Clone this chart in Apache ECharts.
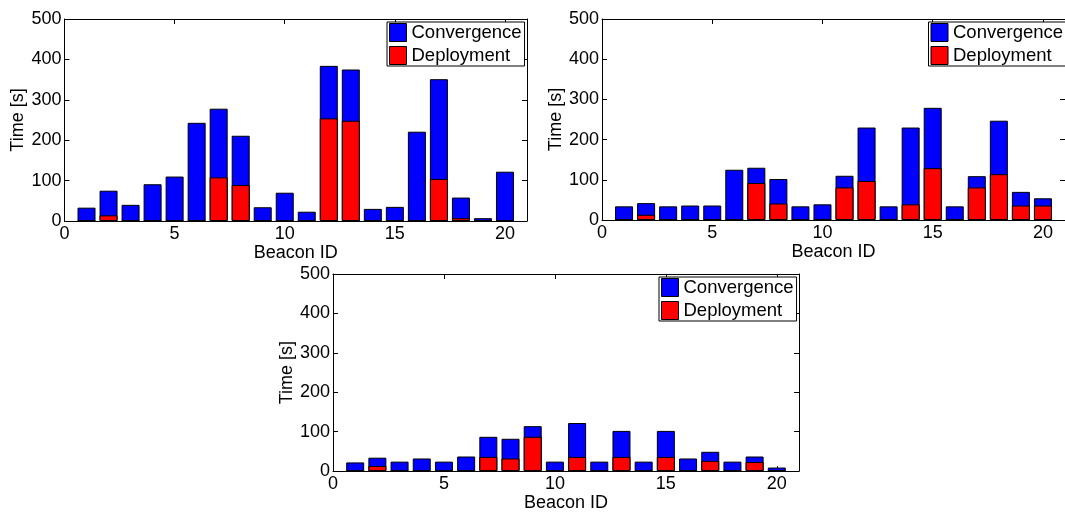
<!DOCTYPE html>
<html>
<head>
<meta charset="utf-8">
<script src="https://cdn.jsdelivr.net/npm/echarts@6/dist/echarts.min.js"></script>
<style>
html,body{margin:0;padding:0;background:#fff;}
#chart{width:1065px;height:513px;}
</style>
</head>
<body>
<div id="chart"></div>
<script>
// ---- data ----
const beaconIds = [1,2,3,4,5,6,7,8,9,10,11,12,13,14,15,16,17,18,19,20];
const xTicks = [0,5,10,15,20];
const yTicks = [0,100,200,300,400,500];
const seriesNames = ['Convergence','Deployment'];

const conv1 = [33,75,40,91,110,243,278,211,34,70,23,384,375,30,35,221,351,58,7,122];
const dep1  = [0,14,0,0,0,0,108,89,0,0,0,254,248,0,0,0,104,7,0,0];

const conv2 = [34,42,34,36,36,125,130,102,34,39,110,230,34,230,279,34,109,247,70,54];
const dep2  = [0,13,0,0,0,0,92,41,0,0,81,97,0,39,129,0,81,114,36,36];

const conv3 = [22,34,24,32,24,37,87,82,114,24,122,24,102,24,102,32,49,24,37,9];
const dep3  = [0,13,0,0,0,0,36,32,87,0,36,0,36,0,36,0,26,0,23,0];

const panels = [
  {conv: conv1, dep: dep1},
  {conv: conv2, dep: dep2},
  {conv: conv3, dep: dep3}
];

// ---- layout ----
const grids = [
  {left: 64.5, top: 19, width: 462.5, height: 202},
  {left: 602, top: 19, width: 466.5, height: 201},
  {left: 333, top: 274, width: 466, height: 201}
];
const FONT = 'Liberation Sans, Arial, Helvetica, sans-serif';
const BLUE = '#0000ff', RED = '#ff0000';

const chart = echarts.init(document.getElementById('chart'), null, {renderer: 'canvas'});

const xAxes = [], yAxes = [], series = [], legends = [];
const xmin = 0, xmax = beaconIds[beaconIds.length - 1] + 1;
const ymin = yTicks[0], ymax = yTicks[yTicks.length - 1];
const xStep = xTicks[1] - xTicks[0], yStep = yTicks[1] - yTicks[0];

grids.forEach((g, i) => {
  const tick = {show: true, inside: true, length: 5, lineStyle: {color: '#000', width: 1}};
  const line = {show: true, onZero: false, lineStyle: {color: '#000', width: 1}};
  xAxes.push({
    type: 'value', gridIndex: i, position: 'bottom', min: xmin, max: xmax, interval: xStep,
    axisLine: line, axisTick: tick, splitLine: {show: false},
    axisLabel: {color: '#000', fontSize: 18, fontFamily: FONT, margin: 4, showMaxLabel: false,
      formatter: v => (xTicks.indexOf(v) >= 0 ? String(v) : '')},
    name: 'Beacon ID', nameLocation: 'middle', nameGap: 17,
    nameTextStyle: {color: '#000', fontSize: 18, fontFamily: FONT}
  });
  xAxes.push({
    type: 'value', gridIndex: i, position: 'top', min: xmin, max: xmax, interval: xStep,
    axisLine: line, axisTick: tick, splitLine: {show: false}, axisLabel: {show: false}
  });
  yAxes.push({
    type: 'value', gridIndex: i, position: 'left', min: ymin, max: ymax, interval: yStep,
    axisLine: line, axisTick: tick, splitLine: {show: false},
    axisLabel: {color: '#000', fontSize: 18, fontFamily: FONT, margin: 3},
    name: 'Time [s]', nameLocation: 'middle', nameGap: 37,
    nameTextStyle: {color: '#000', fontSize: 18, fontFamily: FONT}
  });
  yAxes.push({
    type: 'value', gridIndex: i, position: 'right', min: ymin, max: ymax, interval: yStep,
    axisLine: line, axisTick: tick, splitLine: {show: false}, axisLabel: {show: false}
  });
  const p = panels[i];
  series.push({
    name: seriesNames[0], type: 'bar', xAxisIndex: 2 * i, yAxisIndex: 2 * i,
    data: beaconIds.map((id, k) => [id, p.conv[k]]),
    barWidth: 18, barGap: '-100%',
    itemStyle: {color: BLUE, borderColor: '#000', borderWidth: 1},
    emphasis: {disabled: true}, animation: false
  });
  series.push({
    name: seriesNames[1], type: 'bar', xAxisIndex: 2 * i, yAxisIndex: 2 * i,
    data: beaconIds.map((id, k) => [id, p.dep[k]]),
    barWidth: 18, barGap: '-100%',
    itemStyle: {color: RED, borderColor: '#000', borderWidth: 1},
    emphasis: {disabled: true}, animation: false
  });
  legends.push({
    orient: 'vertical',
    left: g.left + g.width - 140,
    top: g.top + 3,
    data: seriesNames,
    icon: 'rect',
    itemWidth: 17, itemHeight: 18, itemGap: 4,
    padding: [1, 3, 1, 2],
    backgroundColor: '#fff', borderColor: '#000', borderWidth: 1,
    itemStyle: {borderColor: '#000', borderWidth: 1},
    textStyle: {color: '#000', fontSize: 18.5, fontFamily: FONT},
    selectedMode: false
  });
});

chart.setOption({
  animation: false,
  backgroundColor: '#fff',
  grid: grids.map(g => Object.assign({containLabel: false, show: false}, g)),
  xAxis: xAxes,
  yAxis: yAxes,
  legend: legends,
  series: series
});
</script>
</body>
</html>
